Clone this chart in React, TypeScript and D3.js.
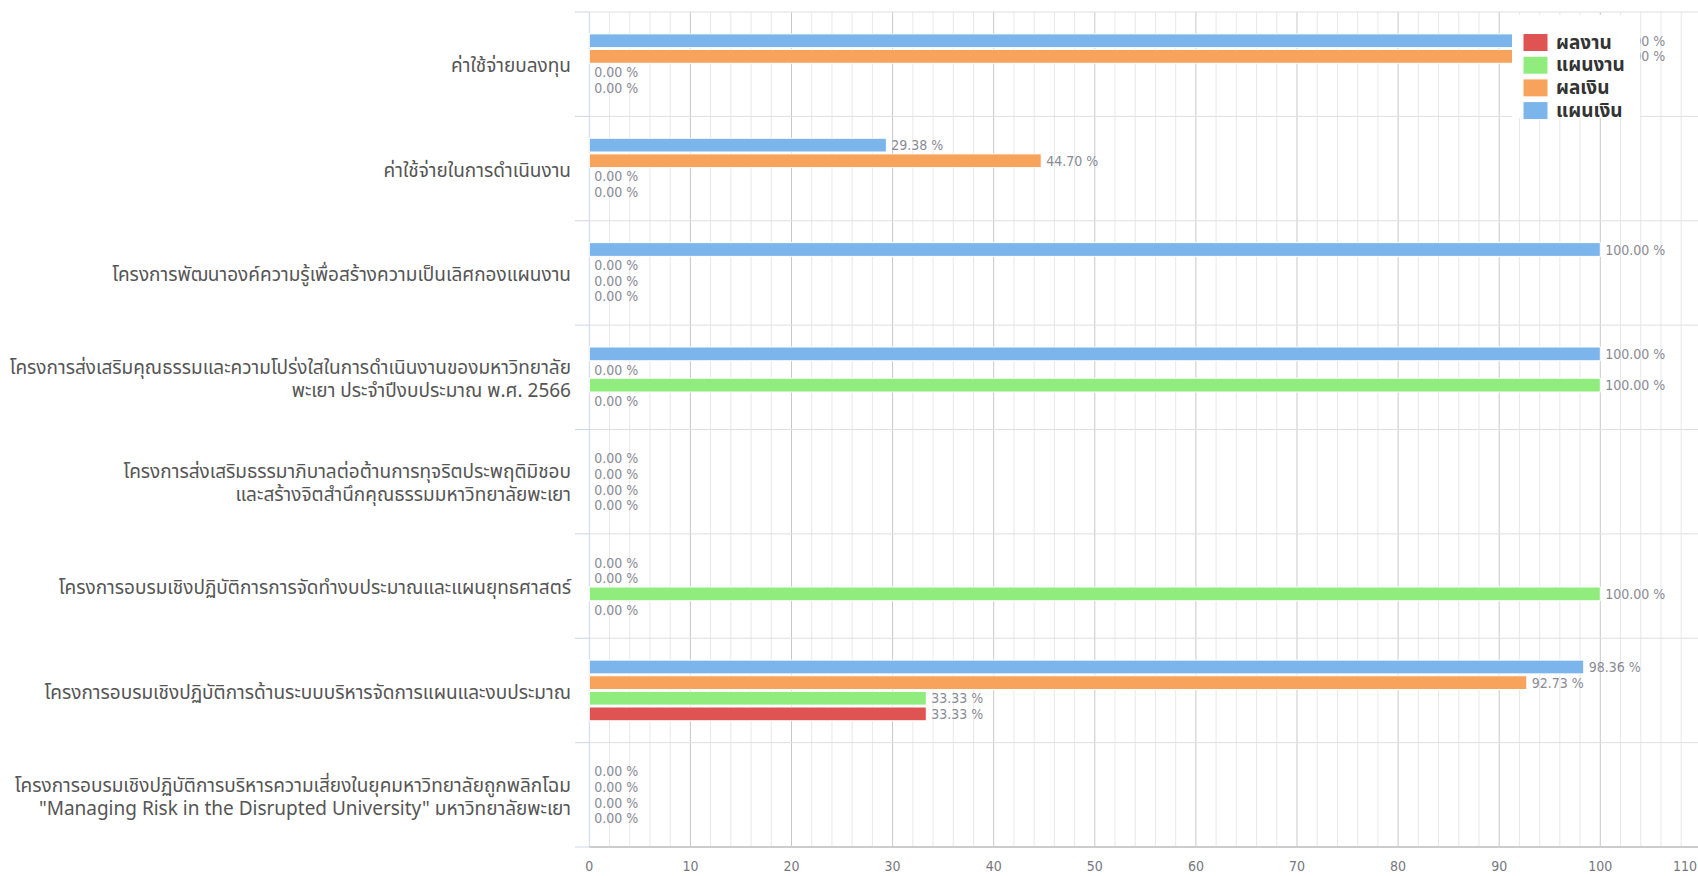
import React from "react";
import * as d3 from "d3";

const categories: string[][] = [
  ["ค่าใช้จ่ายบลงทุน"],
  ["ค่าใช้จ่ายในการดำเนินงาน"],
  ["โครงการพัฒนาองค์ความรู้เพื่อสร้างความเป็นเลิศกองแผนงาน"],
  ["โครงการส่งเสริมคุณธรรมและความโปร่งใสในการดำเนินงานของมหาวิทยาลัย", "พะเยา ประจำปีงบประมาณ พ.ศ. 2566"],
  ["โครงการส่งเสริมธรรมาภิบาลต่อต้านการทุจริตประพฤติมิชอบ", "และสร้างจิตสำนึกคุณธรรมมหาวิทยาลัยพะเยา"],
  ["โครงการอบรมเชิงปฏิบัติการการจัดทำงบประมาณและแผนยุทธศาสตร์"],
  ["โครงการอบรมเชิงปฏิบัติการด้านระบบบริหารจัดการแผนและงบประมาณ"],
  ["โครงการอบรมเชิงปฏิบัติการบริหารความเสี่ยงในยุคมหาวิทยาลัยถูกพลิกโฉม", "\"Managing Risk in the Disrupted University\" มหาวิทยาลัยพะเยา"],
];

// แผนเงิน (blue)
const planMoney = [100, 29.38, 100, 100, 0, 0, 98.36, 0];
// ผลเงิน (orange)
const resultMoney = [100, 44.7, 0, 0, 0, 0, 92.73, 0];
// แผนงาน (green)
const planWork = [0, 0, 0, 100, 0, 100, 33.33, 0];
// ผลงาน (red)
const resultWork = [0, 0, 0, 0, 0, 0, 33.33, 0];

const xTicks = [0, 10, 20, 30, 40, 50, 60, 70, 80, 90, 100, 110];

const seriesDraw = [
  { key: "แผนเงิน", values: planMoney, color: "#7cb5ec" },
  { key: "ผลเงิน", values: resultMoney, color: "#f7a35c" },
  { key: "แผนงาน", values: planWork, color: "#90ed7d" },
  { key: "ผลงาน", values: resultWork, color: "#e05353" },
];
const legendOrder = ["ผลงาน", "แผนงาน", "ผลเงิน", "แผนเงิน"];

const W = 1698;
const H = 876;
const plotLeft = 589.3;
const plotTop = 12;
const plotBottom = 847;

const numFont = "'DejaVu Sans Condensed', 'Liberation Sans Narrow', 'DejaVu Sans', sans-serif";
const thaiFont = "'Noto Sans Thai', 'Noto Sans Thai UI', 'Noto Sans', 'DejaVu Sans', sans-serif";

export default function App() {
  const x = d3.scaleLinear().domain([0, 110]).range([plotLeft, plotLeft + 1112.1]);
  const y0 = d3
    .scaleBand<number>()
    .domain(categories.map((_, i) => i))
    .range([plotTop, plotBottom])
    .padding(0);
  const y1 = d3
    .scaleBand<string>()
    .domain(seriesDraw.map((s) => s.key))
    .range([0, y0.bandwidth()])
    .paddingInner(0.12)
    .paddingOuter(1.4);

  const minor = d3.range(0, 111, 2);
  const boundaries = categories.map((_, i) => y0(i)!).concat([plotBottom]);

  const legendX = 1512;
  const legendY = 15;
  const legendItemH = 22.7;

  return (
    <div style={{ position: "fixed", left: 0, top: 0, width: W, height: H, overflow: "hidden", background: "#fff" }}>
      <svg width={W} height={H} style={{ display: "block" }}>
        <rect x={0} y={0} width={W} height={H} fill="#fff" />
        {/* minor gridlines */}
        {minor
          .filter((v) => v % 10 !== 0)
          .map((v) => (
            <line key={"m" + v} x1={x(v)} x2={x(v)} y1={plotTop} y2={plotBottom} stroke="#e8e8e8" strokeWidth={1} />
          ))}
        {/* major gridlines */}
        {xTicks
          .filter((v) => v !== 0)
          .map((v) => (
            <line key={"M" + v} x1={x(v)} x2={x(v)} y1={plotTop} y2={plotBottom} stroke="#c8c8c8" strokeWidth={1} />
          ))}
        {/* category boundaries */}
        {boundaries.map((b, i) => (
          <g key={"b" + i}>
            <line x1={plotLeft} x2={W} y1={b} y2={b} stroke="#e0e0e0" strokeWidth={1} />
            <line x1={575} x2={plotLeft} y1={b} y2={b} stroke="#ccd6eb" strokeWidth={1} />
          </g>
        ))}
        {/* left axis line */}
        <line x1={plotLeft} x2={plotLeft} y1={plotTop} y2={plotBottom} stroke="#ccd6eb" strokeWidth={1} />
        {/* bottom axis line */}
        <line x1={plotLeft} x2={W} y1={plotBottom} y2={plotBottom} stroke="#cccccc" strokeWidth={2} />

        {/* bars */}
        {categories.map((_, ci) =>
          seriesDraw.map((s) => {
            const v = s.values[ci];
            const by = y0(ci)! + y1(s.key)!;
            const bh = y1.bandwidth();
            return v > 0 ? (
              <rect
                key={ci + s.key}
                x={x(0)}
                y={by}
                width={x(v) - x(0)}
                height={bh}
                fill={s.color}
                stroke="#ffffff"
                strokeWidth={1}
              />
            ) : null;
          })
        )}
        {/* value labels */}
        {categories.map((_, ci) =>
          seriesDraw.map((s) => {
            const v = s.values[ci];
            const by = y0(ci)! + y1(s.key)!;
            const bh = y1.bandwidth();
            return (
              <text
                key={"t" + ci + s.key}
                x={x(v) + 5}
                y={by + bh / 2 + 1}
                dominantBaseline="middle"
                fontFamily={numFont}
                fontSize={14}
                fill="#8a8a94"
                style={{ fontStretch: "condensed" }}
              >
                {d3.format(".2f")(v) + " %"}
              </text>
            );
          })
        )}

        {/* category labels */}
        {categories.map((lines, ci) => {
          const cy = y0(ci)! + y0.bandwidth() / 2 + 3;
          const lh = 23;
          const start = cy - ((lines.length - 1) * lh) / 2;
          return (
            <text
              key={"c" + ci}
              x={571}
              textAnchor="end"
              fontFamily={thaiFont}
              fontSize={19}
              fill="#555555"
            >
              {lines.map((l, li) => (
                <tspan key={li} x={571} y={start + li * lh} dominantBaseline="middle">
                  {l}
                </tspan>
              ))}
            </text>
          );
        })}

        {/* x tick labels (edge label justified inside the chart) */}
        {xTicks.map((v) => {
          const px = x(v);
          const overflow = px + 12 > W;
          return (
            <text
              key={"x" + v}
              x={overflow ? W - 1 : px}
              y={867}
              textAnchor={overflow ? "end" : "middle"}
              dominantBaseline="middle"
              fontFamily={numFont}
              fontSize={14}
              fill="#777780"
              style={{ fontStretch: "condensed" }}
            >
              {v}
            </text>
          );
        })}

        {/* legend */}
        <rect x={legendX} y={legendY} width={128} height={103} fill="#ffffff" />
        {legendOrder.map((k, i) => {
          const s = seriesDraw.find((d) => d.key === k)!;
          const cy = legendY + 27.5 + i * legendItemH;
          return (
            <g key={"l" + k}>
              <rect x={1523} y={cy - 9} width={25} height={18} fill={s.color} stroke="#ffffff" strokeWidth={1} />
              <text
                x={1556}
                y={cy + 1}
                dominantBaseline="middle"
                fontFamily={thaiFont}
                fontSize={19}
                fontWeight="bold"
                fill="#333333"
              >
                {k}
              </text>
            </g>
          );
        })}
      </svg>
    </div>
  );
}
